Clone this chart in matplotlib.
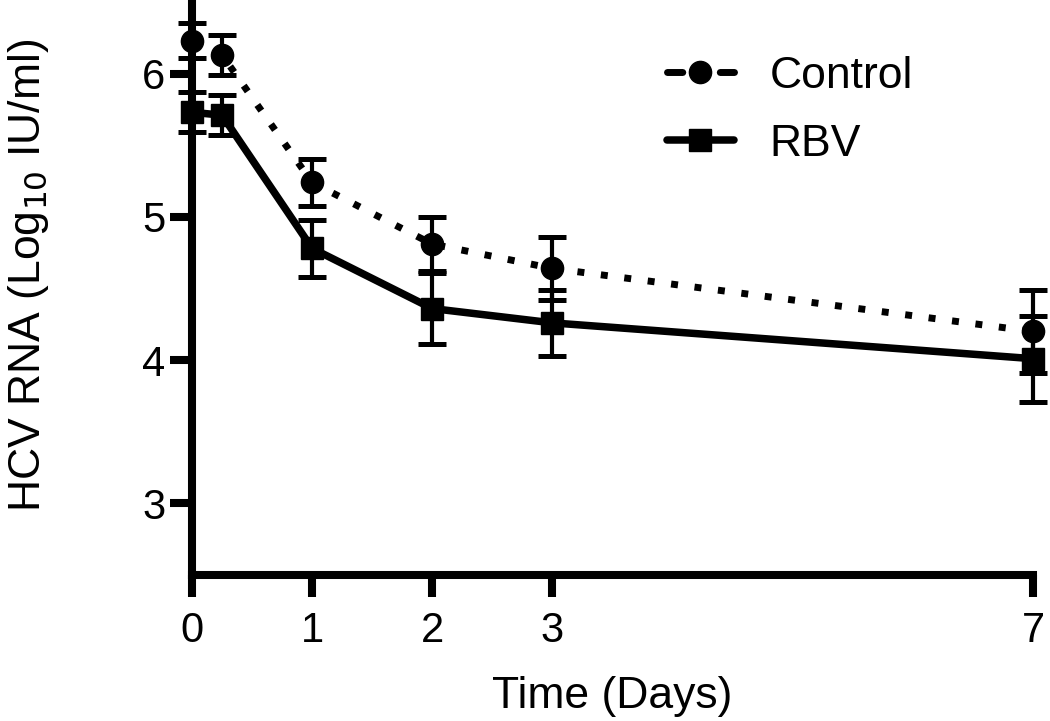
import matplotlib
matplotlib.use("Agg")
import matplotlib.pyplot as plt
from matplotlib.lines import Line2D

plt.rcParams['font.family'] = ['Liberation Sans', 'DejaVu Sans']

days = [0, 0.25, 1, 2, 3, 7]
control_mean = [6.23, 6.13, 5.24, 4.81, 4.64, 4.20]
control_sem = [0.12, 0.14, 0.165, 0.19, 0.22, 0.29]
rbv_mean = [5.73, 5.71, 4.78, 4.36, 4.26, 4.01]
rbv_sem = [0.14, 0.14, 0.20, 0.25, 0.23, 0.30]
xticks = [0, 1, 2, 3, 7]
yticks = [3, 4, 5, 6]

W, H = 1050, 721
fig = plt.figure(figsize=(W / 100, H / 100), dpi=100)
left, right, bottom, top = 192, 1033, 575, 2
ax = fig.add_axes([left / W, (H - bottom) / H, (right - left) / W, (bottom - top) / H])

lw_spine = 5.8
err_kw = dict(fmt='none', ecolor='black', elinewidth=3.0, capsize=10, capthick=3.6, zorder=2, clip_on=False)
ax.errorbar(days, control_mean, yerr=control_sem, **err_kw)
ax.errorbar(days, rbv_mean, yerr=rbv_sem, **err_kw)

ax.plot(days, control_mean, color='black', lw=5, linestyle=(0, (1.0, 2.4)),
        dash_capstyle='butt', zorder=3, clip_on=False)
ax.plot(days, control_mean, linestyle='none', marker='o', ms=16, color='black',
        zorder=4, clip_on=False)
ax.plot(days, rbv_mean, color='black', lw=5.4, linestyle='-', solid_capstyle='round',
        zorder=3, clip_on=False)
ax.plot(days, rbv_mean, linestyle='none', marker='s', ms=15.5, color='black',
        zorder=4, clip_on=False)

ax.set_xlim(0, 7)
ax.set_ylim(2.5, 6.5)
ax.set_xticks(xticks)
ax.set_xticklabels([str(t) for t in xticks])
ax.set_yticks(yticks)
ax.set_yticklabels([str(t) for t in yticks])

for s in ['top', 'right']:
    ax.spines[s].set_visible(False)
for s in ['left', 'bottom']:
    ax.spines[s].set_linewidth(lw_spine)
    ax.spines[s].set_capstyle('projecting')

ax.tick_params(axis='both', which='major', length=16, width=lw_spine, labelsize=30,
               color='black', labelcolor='black')
ax.tick_params(axis='x', pad=10)
ax.tick_params(axis='y', pad=3)
for t in ax.xaxis.get_major_ticks():
    t.tick1line.set_solid_capstyle('round')
for t in ax.yaxis.get_major_ticks():
    t.tick1line.set_solid_capstyle('round')

ax.set_xlabel('Time (Days)', fontsize=32, labelpad=18)
ax.set_ylabel('HCV RNA (Log$_{10}$ IU/ml)', fontsize=32)
ax.yaxis.set_label_coords(-0.168, 0.522)

h_control = Line2D([], [], color='black', lw=5, linestyle=(0, (2.2, 5.4)),
                   dash_capstyle='round', marker='o', ms=16)
h_rbv = Line2D([], [], color='black', lw=5.4, linestyle='-', solid_capstyle='round',
               marker='s', ms=15.5)
ax.legend([h_control, h_rbv], ['Control', 'RBV'], loc='upper left',
          bbox_to_anchor=(0.565, 0.906), frameon=False, fontsize=32,
          handlelength=1.5, handletextpad=0.8, borderpad=0, borderaxespad=0,
          labelspacing=0.6, numpoints=1)

fig.savefig('out.png', dpi=100)
